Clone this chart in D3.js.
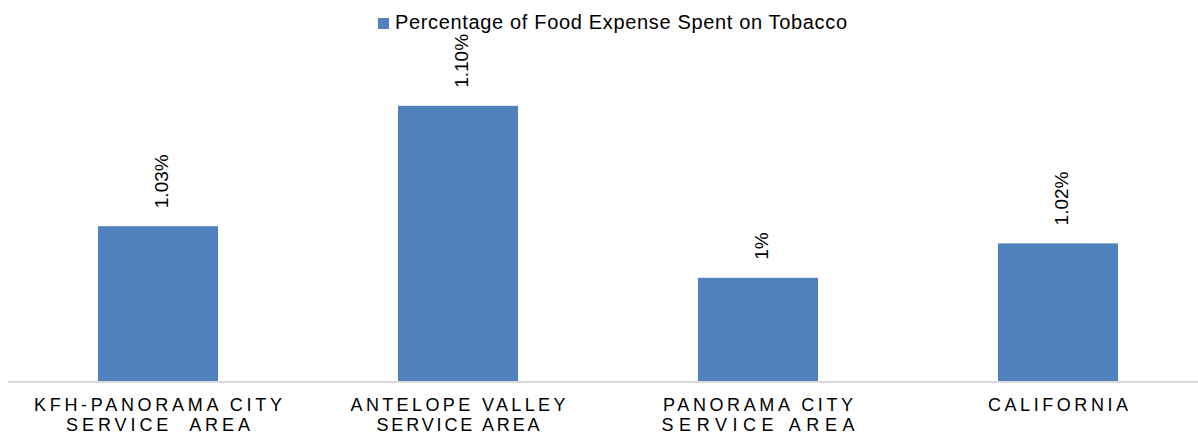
<!DOCTYPE html>
<html><head><meta charset="utf-8">
<script src="https://cdn.jsdelivr.net/npm/d3@7"></script>
<style>body{margin:0;background:#fff}svg{display:block}</style>
</head><body>
<script>
const categories = [["KFH-PANORAMA CITY","SERVICE  AREA"],["ANTELOPE VALLEY","SERVICE AREA"],["PANORAMA CITY","SERVICE AREA"],["CALIFORNIA"]];
const values = [1.03, 1.10, 1.00, 1.02];
const valueLabels = ["1.03%","1.10%","1%","1.02%"];
const seriesName = "Percentage of Food Expense Spent on Tobacco";

// layout: rendered widths of each category label line (px)
const catLineWidths = [[248,184],[215,163],[190,193],[140]];

const W = 1198, H = 435;
const svg = d3.select("body").append("svg").attr("width", W).attr("height", H);
const font = "Liberation Sans, Arial, sans-serif";

const x = d3.scaleBand().domain(d3.range(categories.length)).range([8, 1208]).paddingInner(0.6).paddingOuter(0.3);
const y = d3.scaleLinear().domain([0.94, 1.14]).range([381, 37]);

svg.append("line").attr("x1", 8).attr("x2", W).attr("y1", 382).attr("y2", 382)
  .attr("stroke", "#d9d9d9").attr("stroke-width", 2);

svg.selectAll("rect.bar").data(values).join("rect").attr("class","bar")
  .attr("x", (d,i)=>x(i)).attr("width", x.bandwidth())
  .attr("y", d=>y(d)).attr("height", d=>y(0.94)-y(d))
  .attr("fill", "#4f81bd");

svg.selectAll("text.val").data(values).join("text").attr("class","val")
  .attr("transform", (d,i)=>`translate(${x(i)+x.bandwidth()/2+10},${y(d)-18}) rotate(-90)`)
  .attr("font-family", font).attr("font-size", 19).attr("fill", "#000")
  .text((d,i)=>valueLabels[i]);

const cat = svg.selectAll("text.cat").data(categories).join("text").attr("class","cat")
  .attr("font-family", font).attr("font-size", 18).attr("fill", "#000")
  .attr("text-anchor", "middle");
cat.each(function(lines,i){
  const t = d3.select(this);
  lines.forEach((l,j)=>{
    t.append("tspan").attr("x", x(i)+x.bandwidth()/2).attr("y", 411 + j*20)
      .style("white-space","pre")
      .attr("textLength", catLineWidths[i][j]).attr("lengthAdjust", "spacing")
      .text(l);
  });
});

const lg = svg.append("g");
lg.append("rect").attr("x", 378).attr("y", 18).attr("width", 11).attr("height", 11).attr("fill", "#4f81bd");
lg.append("text").attr("x", 395).attr("y", 29).attr("font-family", font).attr("font-size", 20).attr("fill","#000")
  .attr("textLength", 452).attr("lengthAdjust", "spacing").text(seriesName);
</script>
</body></html>
